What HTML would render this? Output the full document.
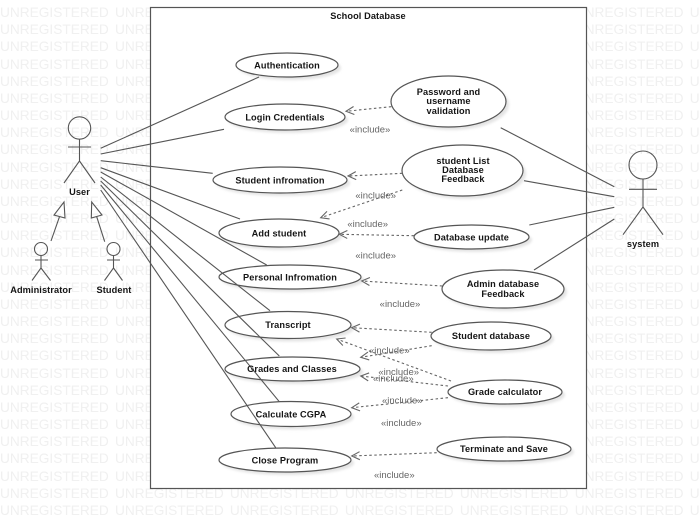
<!DOCTYPE html>
<html>
<head>
<meta charset="utf-8">
<style>
html,body{margin:0;padding:0;background:#fff;width:700px;height:518px;overflow:hidden}
#wm{position:absolute;left:0;top:4px;width:700px;height:514px;overflow:hidden;font:13.7px/17.17px "Liberation Sans",sans-serif;color:#f0f0f0;white-space:pre;word-spacing:2.4px}
svg{position:absolute;left:0;top:0;filter:blur(.3px)}
.l{stroke:#555;stroke-width:1.1;fill:none}
.d{stroke:#666;stroke-width:1.1;fill:none;stroke-dasharray:2.5 2.5;marker-end:url(#o)}
.e{fill:#fff;stroke:#555;stroke-width:1.2}
.s{fill:#e4e4e4;stroke:none;filter:url(#b)}
.t{font:bold 9.2px "Liberation Sans",sans-serif;fill:#151515;text-anchor:middle;letter-spacing:.1px}
.i{font:9.5px "Liberation Sans",sans-serif;fill:#666;text-anchor:middle}
</style>
</head>
<body>
<div id="wm">UNREGISTERED UNREGISTERED UNREGISTERED UNREGISTERED UNREGISTERED UNREGISTERED UNREGISTERED
UNREGISTERED UNREGISTERED UNREGISTERED UNREGISTERED UNREGISTERED UNREGISTERED UNREGISTERED
UNREGISTERED UNREGISTERED UNREGISTERED UNREGISTERED UNREGISTERED UNREGISTERED UNREGISTERED
UNREGISTERED UNREGISTERED UNREGISTERED UNREGISTERED UNREGISTERED UNREGISTERED UNREGISTERED
UNREGISTERED UNREGISTERED UNREGISTERED UNREGISTERED UNREGISTERED UNREGISTERED UNREGISTERED
UNREGISTERED UNREGISTERED UNREGISTERED UNREGISTERED UNREGISTERED UNREGISTERED UNREGISTERED
UNREGISTERED UNREGISTERED UNREGISTERED UNREGISTERED UNREGISTERED UNREGISTERED UNREGISTERED
UNREGISTERED UNREGISTERED UNREGISTERED UNREGISTERED UNREGISTERED UNREGISTERED UNREGISTERED
UNREGISTERED UNREGISTERED UNREGISTERED UNREGISTERED UNREGISTERED UNREGISTERED UNREGISTERED
UNREGISTERED UNREGISTERED UNREGISTERED UNREGISTERED UNREGISTERED UNREGISTERED UNREGISTERED
UNREGISTERED UNREGISTERED UNREGISTERED UNREGISTERED UNREGISTERED UNREGISTERED UNREGISTERED
UNREGISTERED UNREGISTERED UNREGISTERED UNREGISTERED UNREGISTERED UNREGISTERED UNREGISTERED
UNREGISTERED UNREGISTERED UNREGISTERED UNREGISTERED UNREGISTERED UNREGISTERED UNREGISTERED
UNREGISTERED UNREGISTERED UNREGISTERED UNREGISTERED UNREGISTERED UNREGISTERED UNREGISTERED
UNREGISTERED UNREGISTERED UNREGISTERED UNREGISTERED UNREGISTERED UNREGISTERED UNREGISTERED
UNREGISTERED UNREGISTERED UNREGISTERED UNREGISTERED UNREGISTERED UNREGISTERED UNREGISTERED
UNREGISTERED UNREGISTERED UNREGISTERED UNREGISTERED UNREGISTERED UNREGISTERED UNREGISTERED
UNREGISTERED UNREGISTERED UNREGISTERED UNREGISTERED UNREGISTERED UNREGISTERED UNREGISTERED
UNREGISTERED UNREGISTERED UNREGISTERED UNREGISTERED UNREGISTERED UNREGISTERED UNREGISTERED
UNREGISTERED UNREGISTERED UNREGISTERED UNREGISTERED UNREGISTERED UNREGISTERED UNREGISTERED
UNREGISTERED UNREGISTERED UNREGISTERED UNREGISTERED UNREGISTERED UNREGISTERED UNREGISTERED
UNREGISTERED UNREGISTERED UNREGISTERED UNREGISTERED UNREGISTERED UNREGISTERED UNREGISTERED
UNREGISTERED UNREGISTERED UNREGISTERED UNREGISTERED UNREGISTERED UNREGISTERED UNREGISTERED
UNREGISTERED UNREGISTERED UNREGISTERED UNREGISTERED UNREGISTERED UNREGISTERED UNREGISTERED
UNREGISTERED UNREGISTERED UNREGISTERED UNREGISTERED UNREGISTERED UNREGISTERED UNREGISTERED
UNREGISTERED UNREGISTERED UNREGISTERED UNREGISTERED UNREGISTERED UNREGISTERED UNREGISTERED
UNREGISTERED UNREGISTERED UNREGISTERED UNREGISTERED UNREGISTERED UNREGISTERED UNREGISTERED
UNREGISTERED UNREGISTERED UNREGISTERED UNREGISTERED UNREGISTERED UNREGISTERED UNREGISTERED
UNREGISTERED UNREGISTERED UNREGISTERED UNREGISTERED UNREGISTERED UNREGISTERED UNREGISTERED
UNREGISTERED UNREGISTERED UNREGISTERED UNREGISTERED UNREGISTERED UNREGISTERED UNREGISTERED</div>
<svg width="700" height="518" viewBox="0 0 700 518" xmlns="http://www.w3.org/2000/svg">
<defs>
<filter id="b" x="-20%" y="-40%" width="140%" height="180%"><feGaussianBlur stdDeviation="1.2"/></filter>
<marker id="o" markerUnits="userSpaceOnUse" markerWidth="14" markerHeight="12" refX="10" refY="6" orient="auto" overflow="visible">
<path d="M2,2 L10,6 L2,10" fill="none" stroke="#666" stroke-width="1.1" stroke-dasharray="none"/>
</marker>
</defs>
<rect x="150.5" y="7.5" width="436" height="481" fill="#fff" stroke="#555" stroke-width="1.2"/>
<text class="t" x="368" y="19">School Database</text>

<!-- shadows -->
<g class="s">
<ellipse cx="290" cy="68" rx="51" ry="12"/><ellipse cx="288" cy="120" rx="60" ry="13"/>
<ellipse cx="283" cy="183" rx="67" ry="13"/><ellipse cx="282" cy="236" rx="60" ry="14"/>
<ellipse cx="293" cy="280" rx="71" ry="12"/><ellipse cx="291" cy="328" rx="63" ry="13.5"/>
<ellipse cx="295.500" cy="372" rx="67.500" ry="12"/><ellipse cx="294" cy="417" rx="60" ry="12.500"/>
<ellipse cx="288" cy="463" rx="66" ry="12"/><ellipse cx="451.500" cy="104.500" rx="57.500" ry="25.500"/>
<ellipse cx="465.500" cy="173.500" rx="60.500" ry="25.500"/><ellipse cx="474.500" cy="240" rx="57.500" ry="12"/>
<ellipse cx="506" cy="292" rx="61" ry="19"/><ellipse cx="494" cy="339" rx="60" ry="14"/>
<ellipse cx="508" cy="395" rx="57" ry="12"/><ellipse cx="507" cy="452" rx="67" ry="12"/>
</g>
<!-- use cases -->
<g class="e">
<ellipse cx="287" cy="65" rx="51" ry="12"/><ellipse cx="285" cy="117" rx="60" ry="13"/>
<ellipse cx="280" cy="180" rx="67" ry="13"/><ellipse cx="279" cy="233" rx="60" ry="14"/>
<ellipse cx="290" cy="277" rx="71" ry="12"/><ellipse cx="288" cy="325" rx="63" ry="13.5"/>
<ellipse cx="292.500" cy="369" rx="67.500" ry="12"/><ellipse cx="291" cy="414" rx="60" ry="12.500"/>
<ellipse cx="285" cy="460" rx="66" ry="12"/><ellipse cx="448.500" cy="101.500" rx="57.500" ry="25.500"/>
<ellipse cx="462.500" cy="170.500" rx="60.500" ry="25.500"/><ellipse cx="471.500" cy="237" rx="57.500" ry="12"/>
<ellipse cx="503" cy="289" rx="61" ry="19"/><ellipse cx="491" cy="336" rx="60" ry="14"/>
<ellipse cx="505" cy="392" rx="57" ry="12"/><ellipse cx="504" cy="449" rx="67" ry="12"/>
</g>

<!-- User associations -->
<g class="l">
<path d="M100.700,148.300 L259,77"/><path d="M100.700,154 L224,129.300"/><path d="M100.700,160.700 L212.700,173.300"/>
<path d="M100.700,167.700 L240,219"/><path d="M100.700,172 L266.700,265"/><path d="M100.700,177 L270,310.700"/>
<path d="M100.700,181 L279.300,356"/><path d="M100.700,185 L279.300,401.700"/><path d="M100.700,190 L275.700,447.700"/>
<!-- system associations -->
<path d="M500.700,127.700 L614.300,186.700"/><path d="M524,180.700 L614.300,196.700"/>
<path d="M529.300,225 L614.300,207.300"/><path d="M534,270 L614.300,219"/>
</g>

<!-- includes -->
<g>
<path class="d" d="M391.300,106.700 L346,111.300"/>
<path class="d" d="M402.300,173.300 L348,176"/>
<path class="d" d="M402.300,190 L320.700,217.700"/>
<path class="d" d="M414,235.700 L339.300,234.300"/>
<path class="d" d="M442.300,286 L361.700,281"/>
<path class="d" d="M431.700,332.300 L351.700,327.700"/>
<path class="d" d="M431.700,345.700 L360.700,357.300"/>
<path class="d" d="M451,381 L336.700,339"/>
<path class="d" d="M448,386 L360.700,376"/>
<path class="d" d="M448,397.700 L351.700,407.700"/>
<path class="d" d="M436.700,452.700 L351.700,456"/>
</g>

<!-- actors -->
<g class="l">
<circle cx="79.500" cy="128" r="11.200"/><path d="M68,147 H91 M79.500,139 V161 L64,183 M79.500,161 L95,183"/>
<circle cx="41" cy="249" r="6.500"/><path d="M35,260 H48 M41,255.500 V268 L32,280.500 M41,268 L50.500,280.500"/>
<circle cx="113.500" cy="249" r="6.500"/><path d="M107,260 H120 M113.500,255.500 V268 L104.500,280.500 M113.500,268 L122.500,280.500"/>
<circle cx="643" cy="165" r="14"/><path d="M629,189.300 H657 M643,179 V207 L623,234.700 M643,207 L663,234.700"/>
<path d="M51,241 L59.500,216.700"/><path d="M64,202 L54,215 L65,218 Z"/>
<path d="M104.700,241.700 L96.700,216.700"/><path d="M91.700,202 L91.300,218 L102,215 Z"/>
</g>

<!-- labels -->
<text class="t" x="287" y="68.500">Authentication</text>
<text class="t" x="285" y="120.500">Login Credentials</text>
<text class="t" x="280" y="183.500">Student infromation</text>
<text class="t" x="279" y="236.500">Add student</text>
<text class="t" x="290" y="280.500">Personal Infromation</text>
<text class="t" x="288" y="328">Transcript</text>
<text class="t" x="292" y="372">Grades and Classes</text>
<text class="t" x="291" y="417.500">Calculate CGPA</text>
<text class="t" x="285" y="463.500">Close Program</text>
<text class="t" x="448.500" y="95">Password and</text>
<text class="t" x="448.500" y="104">username</text>
<text class="t" x="448.500" y="114">validation</text>
<text class="t" x="463" y="164">student List</text>
<text class="t" x="463" y="173">Database</text>
<text class="t" x="463" y="182">Feedback</text>
<text class="t" x="471.500" y="240.500">Database update</text>
<text class="t" x="503" y="287">Admin database</text>
<text class="t" x="503" y="297">Feedback</text>
<text class="t" x="491" y="339">Student database</text>
<text class="t" x="505" y="395">Grade calculator</text>
<text class="t" x="504" y="452">Terminate and Save</text>
<text class="t" x="79.500" y="195">User</text>
<text class="t" x="41" y="293">Administrator</text>
<text class="t" x="114" y="293">Student</text>
<text class="t" x="643" y="247">system</text>

<text class="i" x="370" y="132.500">«include»</text>
<text class="i" x="375.700" y="198.500">«include»</text>
<text class="i" x="367.700" y="227">«include»</text>
<text class="i" x="375.700" y="258.500">«include»</text>
<text class="i" x="400" y="307">«include»</text>
<text class="i" x="389.300" y="353.500">«include»</text>
<text class="i" x="398.700" y="375">«include»</text>
<text class="i" x="393.300" y="381.700">«include»</text>
<text class="i" x="402.300" y="403.500">«include»</text>
<text class="i" x="401.300" y="426">«include»</text>
<text class="i" x="394.300" y="478">«include»</text>
</svg>
</body>
</html>
